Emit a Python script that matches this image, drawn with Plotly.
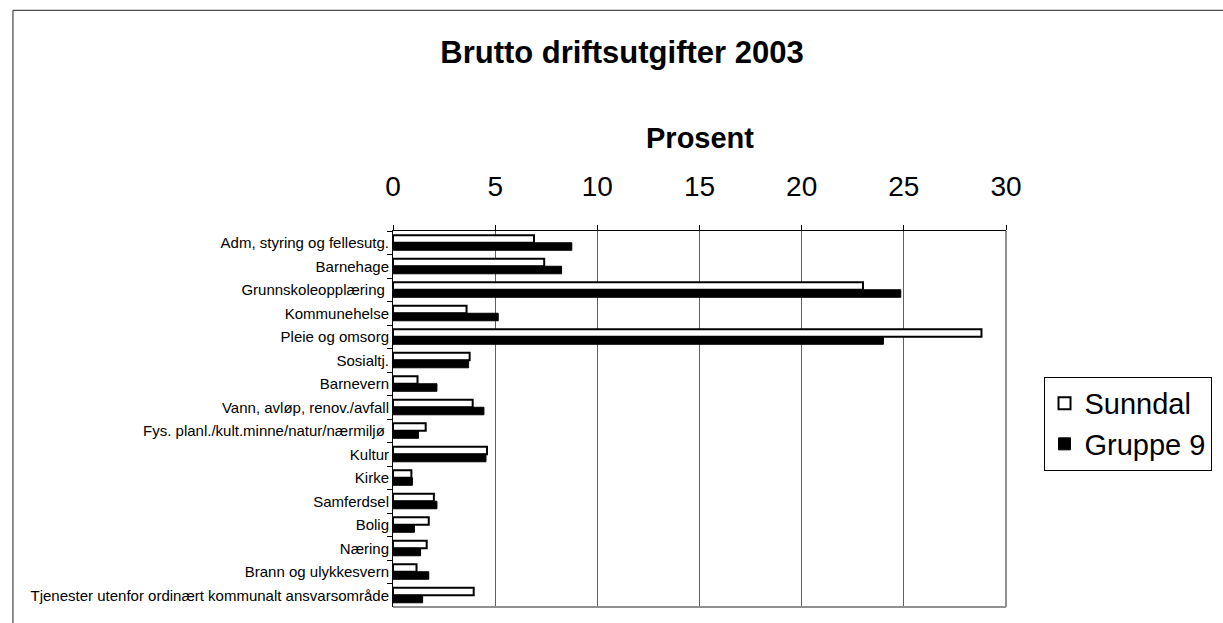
import plotly.graph_objects as go

categories = [
    "Adm, styring og fellesutg.",
    "Barnehage",
    "Grunnskoleopplæring\u00a0",
    "Kommunehelse",
    "Pleie og omsorg",
    "Sosialtj.",
    "Barnevern",
    "Vann, avløp, renov./avfall",
    "Fys. planl./kult.minne/natur/nærmiljø\u00a0",
    "Kultur",
    "Kirke",
    "Samferdsel",
    "Bolig",
    "Næring",
    "Brann og ulykkesvern",
    "Tjenester utenfor ordinært kommunalt ansvarsområde",
]
sunndal = [6.9, 7.4, 23.0, 3.6, 28.8, 3.75, 1.2, 3.9, 1.6, 4.6, 0.9, 2.0, 1.75, 1.65, 1.15, 3.95]
gruppe9 = [8.75, 8.25, 24.85, 5.15, 24.0, 3.7, 2.15, 4.45, 1.25, 4.55, 0.95, 2.15, 1.05, 1.35, 1.75, 1.45]
xticks = [0, 5, 10, 15, 20, 25, 30]

FONT = "Arial, Liberation Sans, sans-serif"

fig = go.Figure()
fig.add_trace(go.Bar(
    y=categories, x=sunndal, orientation="h", name="Sunndal",
    marker=dict(color="white", line=dict(color="black", width=2)),
))
fig.add_trace(go.Bar(
    y=categories, x=gruppe9, orientation="h", name="Gruppe 9",
    marker=dict(color="black", line=dict(color="black", width=1)),
))

L, R, T, B = 393, 1014, 231, 607.5
W, H = 1223, 623
pw, ph = R - L, B - T

def px(x):
    return (x - L) / pw

def py(y):
    return (B - y) / ph

fig.update_layout(
    width=W, height=H,
    margin=dict(l=L, r=W - R, t=T, b=H - B, pad=0),
    paper_bgcolor="white", plot_bgcolor="white",
    barmode="group", bargap=0.36, bargroupgap=0.0,
    font=dict(family=FONT, color="black"),
    title=dict(text="<b>Brutto driftsutgifter 2003</b>", x=622 / W, xanchor="center",
               y=1 - 52 / H, yanchor="middle", font=dict(size=31, family=FONT)),
    xaxis=dict(side="top", range=[0, 30], tickvals=xticks, ticktext=[str(v) for v in xticks],
               showgrid=True, gridcolor="#606060", gridwidth=1,
               showline=True, linecolor="black", linewidth=1,
               ticks="outside", ticklen=5, tickcolor="black", ticklabelstandoff=18,
               tickfont=dict(size=28, family=FONT), zeroline=False),
    yaxis=dict(autorange="reversed", type="category", tickson="boundaries",
               ticks="outside", ticklen=5, tickcolor="black",
               showline=True, linecolor="black", linewidth=1,
               tickfont=dict(size=15, family=FONT), showgrid=False),
    legend=dict(x=px(1052), y=py(377), xanchor="left", yanchor="top",
                bordercolor="black", borderwidth=1, bgcolor="white",
                font=dict(size=29, family=FONT), traceorder="normal",
                itemwidth=30, tracegroupgap=0,
                entrywidthmode="pixels", entrywidth=190),
    showlegend=True,
)

fig.add_annotation(text="<b>Prosent</b>", x=0.5, y=py(138), xref="paper", yref="paper",
                   showarrow=False, font=dict(size=29, family=FONT), yanchor="middle")

# plot area right and bottom borders (gray)
fig.add_shape(type="line", xref="paper", yref="paper", x0=1, x1=1, y0=0, y1=1,
              line=dict(color="#909090", width=2))
fig.add_shape(type="line", xref="paper", yref="paper", x0=0, x1=1, y0=0, y1=0,
              line=dict(color="#909090", width=2))
# outer chart border (only left and top edges are visible in the frame)
fig.add_shape(type="rect", xref="paper", yref="paper",
              x0=px(8), x1=px(1240), y0=py(640), y1=py(10),
              line=dict(color="#202020", width=1), layer="below")

fig.write_html("out.html", config={"displayModeBar": False},
               post_script="document.body.style.margin='0';")
